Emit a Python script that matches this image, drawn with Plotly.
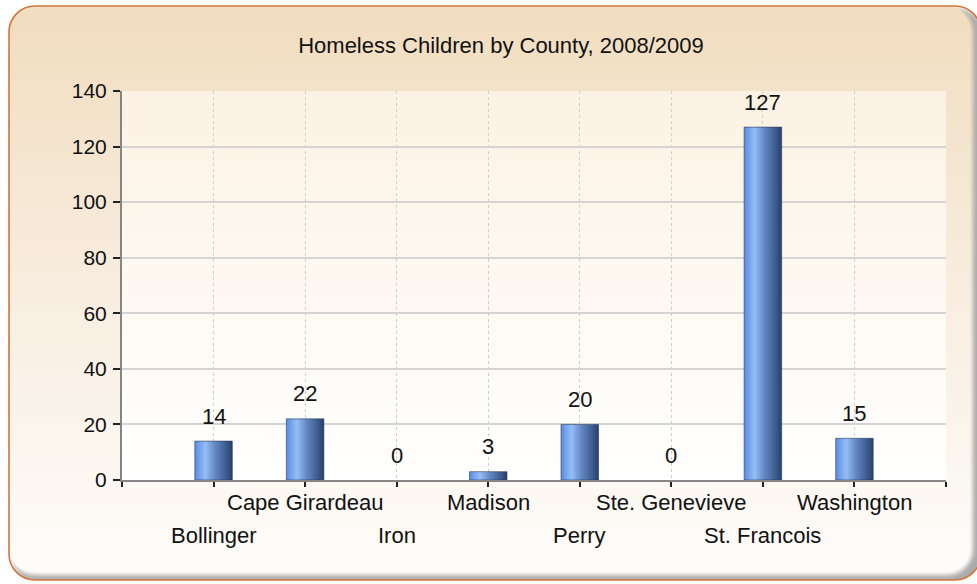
import base64
import plotly.graph_objects as go

# Homeless children counts per county, school year 2008/2009
counties = ["Bollinger", "Cape Girardeau", "Iron", "Madison", "Perry",
            "Ste. Genevieve", "St. Francois", "Washington"]
children = [14, 22, 0, 3, 20, 0, 127, 15]
y_ticks = [0, 20, 40, 60, 80, 100, 120, 140]

W, H = 977, 584
M_L, M_R, M_T, M_B = 122, 31, 91, 104
PW, PH = W - M_L - M_R, H - M_T - M_B

FONT = "Liberation Sans, Arial, sans-serif"
TXT = "#111111"
BAR_W = 0.41

# Rounded panel background with shading, plus the plot-area wash
svg = f"""<svg xmlns='http://www.w3.org/2000/svg' width='{W}' height='{H}' viewBox='0 0 {W} {H}'>
<defs>
 <linearGradient id='bg' x1='0' y1='0' x2='0' y2='1'>
  <stop offset='0' stop-color='#F1DDBF'/>
  <stop offset='0.5' stop-color='#F8EDDF'/>
  <stop offset='1' stop-color='#FEFCFA'/>
 </linearGradient>
 <linearGradient id='pa' x1='0' y1='0' x2='0' y2='1'>
  <stop offset='0' stop-color='#FCF2E3'/>
  <stop offset='1' stop-color='#FFFFFF'/>
 </linearGradient>
 <filter id='soft' x='-5%' y='-5%' width='110%' height='110%'><feGaussianBlur stdDeviation='2'/></filter>
 <clipPath id='clip'><rect x='9' y='6' width='972' height='574' rx='26'/></clipPath>
</defs>
<rect x='9' y='6' width='972' height='574' rx='26' fill='#FFFFFF'/>
<g clip-path='url(#clip)'>
 <rect x='12' y='9' width='972' height='574' rx='26' fill='#ABABAB' filter='url(#soft)'/>
 <rect x='9' y='6' width='964' height='569' rx='26' fill='url(#bg)' filter='url(#soft)'/>
 <rect x='9' y='6' width='961' height='566' rx='24' fill='url(#bg)'/>
</g>
<rect x='9' y='6' width='972' height='574' rx='26' fill='none' stroke='#D2743C' stroke-width='1.6'/>
<rect x='{M_L}' y='{M_T}' width='{PW}' height='{PH}' fill='url(#pa)'/>
</svg>"""
svg_uri = "data:image/svg+xml;base64," + base64.b64encode(svg.encode()).decode()

bar_scale = [[0.0, "#5A8BE2"], [0.28, "#95BEF6"], [0.55, "#6286C2"],
             [0.85, "#3B5A8C"], [1.0, "#283F68"]]

fig = go.Figure()

# Bars drawn as filled rectangles so they can carry a horizontal gradient
for i, (name, v) in enumerate(zip(counties, children), start=1):
    x0, x1 = i - BAR_W / 2, i + BAR_W / 2
    fig.add_trace(go.Scatter(
        x=[x0, x1, x1, x0, x0], y=[0, 0, v, v, 0],
        mode="lines", fill="toself",
        fillgradient=dict(type="horizontal", colorscale=bar_scale),
        line=dict(color="rgba(35,50,80,0.55)", width=1 if v > 0 else 0),
        name=name, hoverinfo="text", text=f"{name}: {v}",
        showlegend=False,
    ))

annotations = []
# Value labels above the bars
for i, v in enumerate(children, start=1):
    annotations.append(dict(
        x=i, y=v, xref="x", yref="y", text=str(v), showarrow=False,
        yanchor="middle", yshift=25, font=dict(family=FONT, size=22, color=TXT),
    ))
# County names, staggered on two rows
for i, name in enumerate(counties, start=1):
    annotations.append(dict(
        x=i, y=0, xref="x", yref="y", text=name, showarrow=False,
        yanchor="middle", yshift=-22 if i % 2 == 0 else -55,
        font=dict(family=FONT, size=22, color=TXT),
    ))

fig.update_layout(
    width=W, height=H,
    margin=dict(l=M_L, r=M_R, t=M_T, b=M_B, autoexpand=False),
    paper_bgcolor="#FFFFFF",
    plot_bgcolor="rgba(0,0,0,0)",
    font=dict(family=FONT, size=22, color=TXT),
    title=dict(text="Homeless Children by County, 2008/2009",
               x=501 / W, xref="container", xanchor="center",
               y=1 - 45 / H, yref="container", yanchor="middle",
               font=dict(family=FONT, size=22, color=TXT)),
    xaxis=dict(
        range=[0, len(counties) + 1],
        tickvals=list(range(0, len(counties) + 2)),
        ticktext=[""] * (len(counties) + 2),
        showgrid=True, gridcolor="#CDCDCD", gridwidth=1, griddash="dot",
        ticks="outside", ticklen=5, tickwidth=1.5, tickcolor="#222222",
        showline=True, linecolor="#858585", linewidth=2,
        zeroline=False, fixedrange=True,
    ),
    yaxis=dict(
        range=[0, 140], tickvals=y_ticks,
        showgrid=True, gridcolor="#D4D4D4", gridwidth=1.5,
        ticks="outside", ticklen=7, tickwidth=1.5, tickcolor="#222222",
        ticklabelstandoff=2,
        showline=True, linecolor="#858585", linewidth=2,
        zeroline=False, fixedrange=True,
        tickfont=dict(family=FONT, size=21, color=TXT),
    ),
    annotations=annotations,
    images=[dict(
        source=svg_uri, xref="paper", yref="paper",
        x=-M_L / PW, y=1 + M_T / PH, sizex=W / PW, sizey=H / PH,
        xanchor="left", yanchor="top", sizing="stretch", layer="below",
    )],
)

fig.write_html("out.html")
